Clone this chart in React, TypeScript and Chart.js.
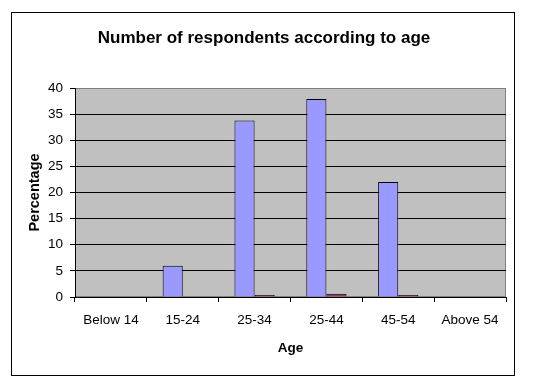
import React, { useEffect, useRef } from "react";
import { Chart, registerables } from "chart.js";

Chart.register(...registerables);

const categories = ["Below 14", "15-24", "25-34", "25-44", "45-54", "Above 54"];
const seriesA = [0, 6, 33.8, 37.9, 22, 0];
const seriesB = [0, 0, 0.4, 0.6, 0.4, 0];
const yTicksMin = 0;
const yTicksMax = 40;
const yTickStep = 5;
const titleText = "Number of respondents according to age";
const xTitle = "Age";
const yTitle = "Percentage";

const FONT = 'Arial, "Liberation Sans", sans-serif';

const backgroundPlugin = {
  id: "bgPlot",
  beforeDraw(chart: any) {
    const { ctx, chartArea } = chart;
    ctx.save();
    ctx.fillStyle = "#ffffff";
    ctx.fillRect(0, 0, chart.width, chart.height);
    ctx.strokeStyle = "#000000";
    ctx.lineWidth = 1;
    ctx.strokeRect(11.5, 12.5, 503, 363);
    ctx.fillStyle = "#C0C0C0";
    ctx.fillRect(chartArea.left, chartArea.top, chartArea.right - chartArea.left, chartArea.bottom - chartArea.top);
    ctx.strokeStyle = "#808080";
    ctx.strokeRect(chartArea.left + 0.5, chartArea.top + 0.5, chartArea.right - chartArea.left - 1, chartArea.bottom - chartArea.top - 1);
    ctx.restore();
  },
};

export default function App() {
  const ref = useRef<HTMLCanvasElement | null>(null);
  useEffect(() => {
    if (!ref.current) return;
    Chart.defaults.font.family = FONT;
    const chart = new Chart(ref.current, {
      type: "bar",
      data: {
        labels: categories,
        datasets: [
          {
            label: "A",
            data: seriesA,
            backgroundColor: "#9999FF",
            borderColor: "#000000",
            borderWidth: 1,
            barPercentage: 1,
            categoryPercentage: 0.56,
          },
          {
            label: "B",
            data: seriesB,
            backgroundColor: "#993366",
            borderColor: "#000000",
            borderWidth: 1,
            barPercentage: 1,
            categoryPercentage: 0.56,
          },
        ],
      },
      options: {
        animation: false,
        responsive: false,
        maintainAspectRatio: false,
        layout: { padding: { left: 22, right: 33, top: 0, bottom: 0 } },
        plugins: {
          legend: { display: false },
          tooltip: { enabled: false },
          title: {
            display: true,
            text: titleText,
            color: "#000",
            font: { family: FONT, size: 17, weight: "bold" },
            padding: { top: 28, bottom: 39.6 },
          },
        },
        scales: {
          x: {
            offset: true,
            grid: {
              display: true,
              drawOnChartArea: false,
              drawTicks: true,
              tickLength: 5,
              color: "#000",
              offset: true,
            },
            border: { color: "#000", width: 1 },
            ticks: {
              color: "#000",
              font: { family: FONT, size: 13.5 },
              padding: 10,
              maxRotation: 0,
              autoSkip: false,
            },
            title: {
              display: true,
              text: xTitle,
              color: "#000",
              font: { family: FONT, size: 13.5, weight: "bold" },
              padding: { top: 0, bottom: 31 },
            },
            afterFit: (s: any) => {
              s.height = 90;
            },
          },
          y: {
            min: yTicksMin,
            max: yTicksMax,
            ticks: {
              stepSize: yTickStep,
              padding: 7,
              color: "#000",
              font: { family: FONT, size: 13.5 },
            },
            grid: {
              color: (c: any) => (c.tick && c.tick.value === yTicksMax ? "#808080" : "#000000"),
              tickColor: "#000000",
              tickLength: 5,
            },
            border: { color: "#000", width: 1 },
            title: {
              display: true,
              text: yTitle,
              color: "#000",
              font: { family: FONT, size: 14.5, weight: "bold" },
              padding: { top: 4.3, bottom: 0 },
            },
            afterFit: (s: any) => {
              s.width = 53;
            },
          },
        },
      } as any,
      plugins: [backgroundPlugin],
    });
    return () => chart.destroy();
  }, []);
  return (
    <div style={{ position: "fixed", left: 0, top: 0, width: 539, height: 387, background: "#fff" }}>
      <canvas ref={ref} width={539} height={387} style={{ display: "block" }} />
    </div>
  );
}
